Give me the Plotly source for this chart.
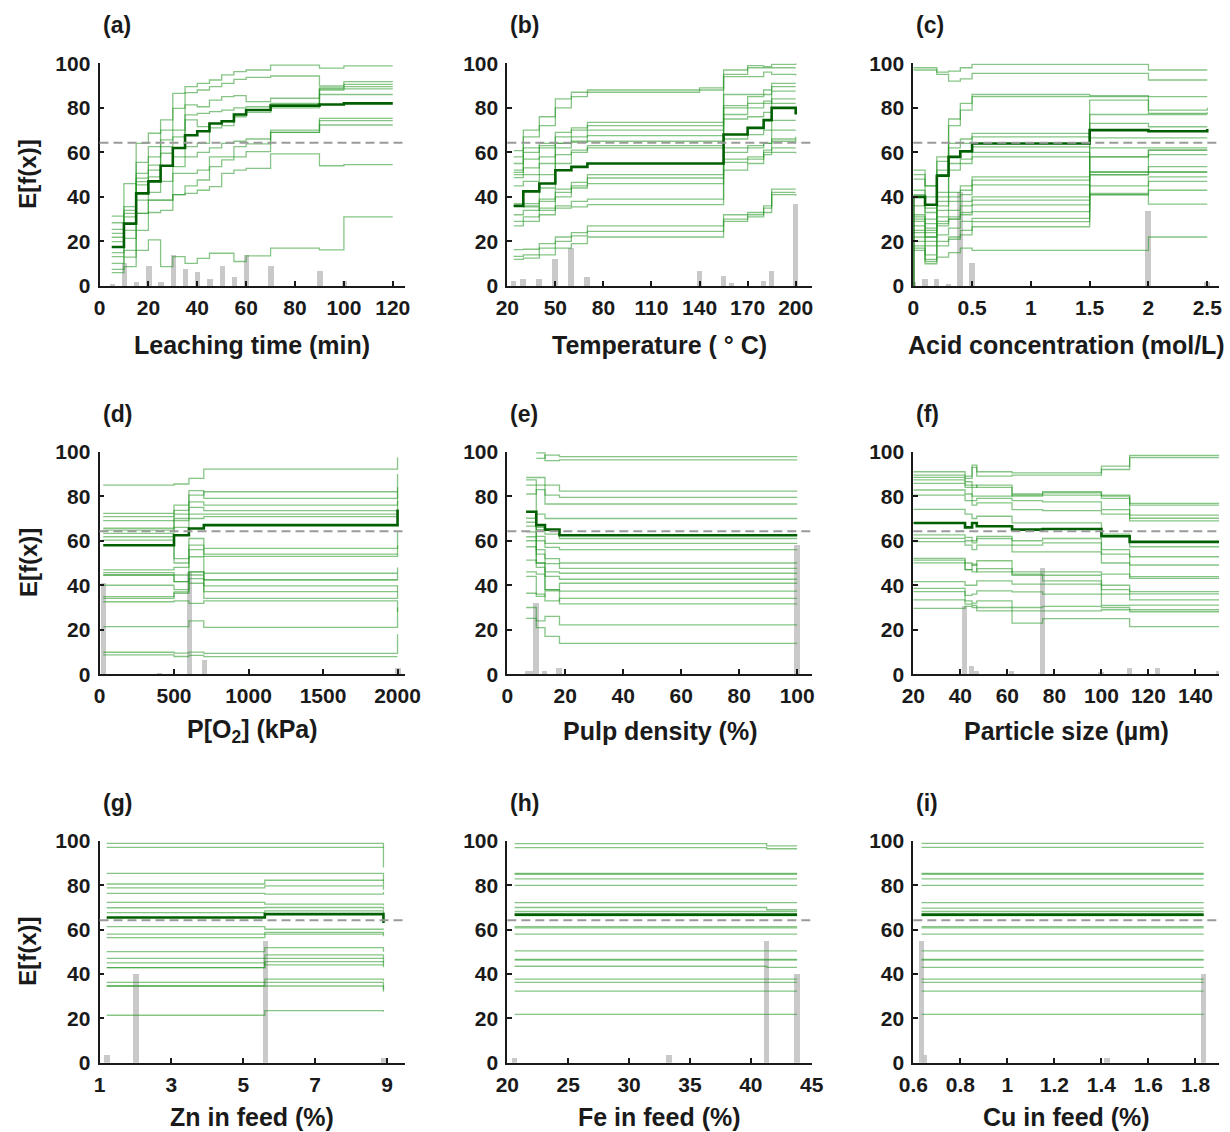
import plotly.graph_objects as go

W, H = 1230, 1132

# ---------------- (a) Leaching time (min) ----------------
A_X = [5, 10, 15, 20, 25, 30, 35, 40, 45, 50, 55, 60, 70, 90, 100, 120]
A_ICE = [
    [31.4, 46, 64, 68.6, 74.6, 86.5, 89.5, 91, 92.5, 94.8, 96.3, 97, 99.2, 97.8, 98.8, 98.8],
    [28.4, 35.6, 55.5, 62.6, 70, 79.8, 86.8, 88, 89.5, 91, 92.8, 93.7, 94.3, 89.8, 91.8, 91.8],
    [25.4, 34, 50.6, 58, 65.6, 70, 81.3, 80.5, 83.5, 85, 85.5, 82.8, 84.3, 89, 90.5, 90.5],
    [23.6, 32.6, 48.4, 54.3, 62.6, 67, 76.8, 77.5, 78.3, 79, 80, 80.5, 82, 88.5, 89.5, 89.5],
    [21.9, 31, 46.9, 52, 59.6, 62, 74.6, 71.6, 73, 73.8, 77, 79, 81, 88, 88.5, 88.5],
    [19.9, 28, 45.4, 49, 54, 58, 62.6, 64, 71, 72, 76, 78, 80, 86, 86, 86],
    [15, 25, 38.6, 42, 47, 53.6, 58, 60, 62, 64, 65, 66, 70, 75.3, 75.3, 75.3],
    [13.2, 21.4, 32.6, 38.6, 38.6, 50.6, 50.6, 52, 58, 58, 62.6, 63.8, 69, 74.3, 74.3, 74.3],
    [10.2, 16, 32.6, 33, 34, 41, 45, 47.6, 53.6, 56.6, 58, 60.3, 69, 72.3, 72.3, 72.3],
    [7.5, 13, 25, 38.6, 38.6, 41, 41.6, 43, 44.6, 50.6, 52, 52.8, 59.3, 54, 54.5, 54.5],
    [6, 8.7, 16, 20.7, 8.7, 13.2, 10.2, 12.4, 14.7, 14.7, 11, 13.5, 17, 16.2, 31, 31],
]
A_PDP = [17.5, 28, 41.6, 47, 54, 62, 67.7, 69.5, 73, 74, 77, 79, 81, 81.5, 82, 82]
A_HIST_X = [5, 10, 15, 20, 25, 30, 35, 40, 45, 50, 55, 60, 70, 90, 100]
A_HIST_Y = [0.7, 10, 1.6, 8.7, 1.6, 13.6, 7.5, 6, 3, 8.7, 4, 13.6, 8.7, 6.5, 2]

# ---------------- (b) Temperature ----------------
B_X = [24, 30, 40, 50, 60, 70, 140, 155, 170, 180, 185, 200]
B_ICE = [
    [52, 70, 76, 84, 87, 88, 89, 97, 99, 98.5, 99.5, 100],
    [50, 67, 72, 80, 85, 87, 88, 95, 98, 98, 98, 98],
    [58, 60, 64, 69, 71, 73.5, 73.5, 94, 94, 96, 95, 94.5],
    [55, 57, 62, 67, 70, 72, 72, 86, 86, 88, 91, 91],
    [51, 53, 58, 64, 67, 70, 70, 81, 85, 86, 89.5, 89.5],
    [48.7, 50, 55, 62, 65, 67.5, 67.5, 77, 80, 82, 87.5, 87.5],
    [37, 37, 44, 59, 61, 62, 62, 80, 82, 83, 82, 82],
    [45, 47, 50, 55, 60, 63, 63, 75, 76, 78, 84, 84],
    [60.8, 62, 63, 64, 64.5, 65, 65, 66, 68, 70, 74.4, 74.4],
    [36, 36, 39, 43.5, 46.5, 50, 50, 57, 57, 60, 70, 70],
    [32, 34, 38, 42, 45, 48.5, 48.5, 55.5, 58, 61, 62, 62],
    [29, 31, 35, 40, 44, 46, 46, 52, 55, 59, 60, 59.5],
    [27, 29, 32, 36, 38, 39, 39, 60, 63, 64, 65, 67],
    [36, 35.5, 34, 35, 35.5, 36.5, 36.5, 62, 62, 64, 66, 66],
    [16.3, 16.5, 19, 22, 24, 27, 27, 32, 33, 36, 42, 42],
    [13.3, 14, 17, 20, 22.5, 24.5, 24.5, 30, 32, 35, 43.5, 43.5],
    [12, 12.5, 14, 17, 19, 22, 22, 29, 31, 33, 41, 40.5],
]
B_PDP = [36, 42.5, 46, 52, 53.5, 55, 55, 68, 71, 74.5, 80, 77]
B_HIST_X = [24, 30, 40, 50, 60, 70, 140, 155, 160, 180, 185, 200]
B_HIST_Y = [2, 3, 3, 12, 17, 4, 6.5, 4.5, 1, 2, 6.5, 36.5]

# ---------------- (c) Acid concentration ----------------
C_X = [0, 0.1, 0.2, 0.3, 0.4, 0.5, 1.5, 2.0, 2.5]
C_ICE = [
    [98, 98, 96, 96.5, 98, 99.5, 99.5, 97, 97],
    [97, 97, 95, 92, 93, 95.5, 95.5, 92.5, 92.5],
    [50, 45, 58, 75, 82, 86, 85.5, 85, 85],
    [48, 40, 56, 72, 79, 85, 85, 77.5, 78],
    [43, 35, 52, 64, 66, 68.5, 83.5, 79, 80],
    [41, 33, 50, 62, 64, 67, 77, 77, 77],
    [52, 45, 50, 58, 60, 62.5, 73, 71.5, 71.5],
    [36, 30, 40, 55, 57, 60, 58, 61, 61],
    [32, 28, 42, 52, 55, 58, 51.3, 59, 59],
    [29, 25, 38, 42, 45, 49, 50, 53.6, 53.6],
    [27, 24, 34, 40, 43, 47.5, 49.9, 51.3, 51.3],
    [30, 26, 36, 38, 41, 45.4, 45, 49, 49],
    [25, 22, 31, 34, 38, 40, 41.6, 47, 47],
    [22, 20, 29, 31, 36, 38.6, 40.9, 43, 43],
    [20, 18, 28, 30, 33, 36.4, 66.5, 66.5, 66.5],
    [18, 12, 23, 26, 29, 30.4, 58, 61, 61],
    [16, 10, 20, 22, 25, 28.9, 62, 62, 62],
    [17, 11, 13, 15, 17, 16, 16, 22, 22],
    [24, 14, 18, 21, 23, 26.6, 41, 36.8, 36.8],
    [31, 22, 27, 30, 32, 33.4, 51, 51, 51],
]
C_PDP_X = [0, 0, 0.1, 0.2, 0.3, 0.4, 0.5, 1.5, 2.0, 2.5]
C_PDP = [0, 40, 36.5, 49.5, 58, 60.5, 64, 70, 69.5, 70.5]
C_HIST_X = [0, 0.1, 0.2, 0.3, 0.4, 0.5, 2.0, 2.5]
C_HIST_Y = [1.5, 3, 3, 0.7, 42, 10, 33.5, 1.5]

# ---------------- (d) P[O2] ----------------
D_X = [25, 500, 600, 700, 2000]
D_ICE = [
    [85, 85.5, 88, 92.2, 97.5],
    [72.3, 76, 82.5, 79, 90],
    [70.8, 73.6, 80.5, 82, 82],
    [69, 72, 77.5, 76, 84],
    [65.6, 70, 75, 73.5, 73.5],
    [64.8, 69, 72, 72, 78],
    [63.3, 66, 70, 70.8, 70.8],
    [61.8, 52, 61, 56.6, 64],
    [60.3, 50, 58, 54, 54],
    [46.9, 48, 56, 53, 58],
    [45.7, 44.6, 52.8, 45.4, 45.4],
    [44.6, 41.6, 46, 42.4, 48],
    [44.6, 41.6, 46, 42.4, 42.4],
    [40, 38, 44.6, 39.7, 39.7],
    [34.9, 37, 43, 37.1, 37.1],
    [34.1, 36.4, 40.9, 34.1, 40],
    [32.6, 33, 31.9, 33, 28],
    [21.4, 21.4, 24, 21.1, 30],
    [9.9, 9.5, 10, 9.4, 18],
    [8.7, 8, 8.5, 7.9, 7.9],
]
D_PDP = [58, 62.5, 65.5, 67, 74]
D_HIST_X = [25, 400, 600, 700, 2000]
D_HIST_Y = [41, 0.7, 46, 6.5, 3]

# ---------------- (e) Pulp density ----------------
E_X = [6.5, 10, 13, 18, 100]
E_ICE = [
    [None, 97, 98.5, 97.8, 97.8],
    [None, 99.5, 96, 96.3, 96.3],
    [88.4, 88.4, 85, 82.3, 82.3],
    [87.3, 50, 38, 31.6, 31.6],
    [85, 85, 80.5, 79.5, 79.5],
    [81, 83, 76.5, 76.5, 76.5],
    [73, 72, 70, 70, 70],
    [70.1, 65, 63, 61, 61],
    [68.3, 66, 65, 62.5, 62.5],
    [66.6, 60, 58.8, 58.8, 58.8],
    [64, 62, 57, 56, 56],
    [61.8, 56, 52, 50, 50],
    [60, 54, 49.7, 47.6, 47.6],
    [57.3, 50, 46, 45.4, 45.4],
    [51.3, 48, 44, 42.7, 42.7],
    [46, 45, 38, 40.9, 40.9],
    [36.4, 35, 37.5, 37.4, 37.4],
    [44, 36, 33, 34.1, 34.1],
    [25.1, 21, 17, 13.9, 13.9],
    [30, 24, 26, 22.2, 22.2],
]
E_PDP = [73, 67, 65, 62.5, 62.5]
E_HIST_X = [7, 8.5, 10, 13, 18, 100]
E_HIST_Y = [1.5, 1.5, 32, 1.5, 3, 58]

# ---------------- (f) Particle size ----------------
F_X = [20, 42, 45, 47, 62, 75, 100, 112, 150]
F_ICE = [
    [91, 89, 94, 91, 90.5, 90.5, 93.5, 98.3, 98.3],
    [89.5, 88, 93, 89, 89.5, 89.5, 92, 97.3, 97.3],
    [88.5, 86.5, 85, 84, 81, 81.5, 80.5, 76.8, 76.8],
    [87.3, 85, 84, 85, 80, 80.5, 79, 76, 76],
    [85.8, 84, 80, 80, 80.5, 82, 80, 71.5, 71.5],
    [82.8, 81, 78, 79, 78, 77.5, 74, 70.1, 70.1],
    [80.5, 78, 76, 77, 74, 73.5, 72, 68.9, 68.9],
    [74.1, 72, 70, 71, 68, 68, 63, 57.3, 57.3],
    [62.6, 61.5, 60, 62, 60, 61, 56, 52.8, 52.8],
    [61.1, 60, 59, 61, 58, 59, 54, 49.1, 49.1],
    [59.6, 58, 56, 58, 55, 55, 50, 43.9, 43.9],
    [52.1, 50, 49, 51, 46, 46, 45, 43.1, 43.1],
    [51.3, 47, 49.5, 46, 44.5, 44.5, 38, 37.1, 37.1],
    [50.1, 47, 46, 47.5, 45, 42, 40, 36.1, 36.1],
    [41.6, 40, 40, 42, 40.5, 40.5, 36, 33.4, 33.4],
    [38.6, 35.5, 36, 37.5, 37, 36, 31, 31.1, 31.1],
    [37.1, 33, 32, 33, 30, 30.5, 30, 28.1, 28.1],
    [33.4, 31.5, 31, 30, 23, 25, 25, 21.4, 21.4],
    [29.6, 30.5, 30, 28.5, 28.5, 28.5, 29, 29, 29],
]
F_PDP = [68, 66, 68, 66.5, 65, 65.3, 62, 59.5, 59.5]
F_HIST_X = [42, 45, 47, 62, 75, 100, 112, 124, 150]
F_HIST_Y = [31, 4, 1.5, 1.5, 48, 1, 3, 3, 1.5]

# ---------------- (g) Zn in feed ----------------
G_X = [1.2, 5.6, 8.9]
G_ICE = [
    [98.9, 98.9, 97], [97.1, 97.1, 88], [85.4, 85.4, 80], [80.6, 82.3, 82],
    [78.9, 79.8, 78], [76.4, 76, 77], [72.3, 71.5, 71], [69.9, 70, 69],
    [67.7, 68.5, 65], [61.4, 60.2, 60], [58, 58, 57], [56.4, 58.8, 58],
    [50.1, 51.9, 50], [47.1, 48.6, 47], [42.9, 47.1, 45], [42.9, 45.6, 44],
    [45, 44.1, 43], [36.2, 37.7, 37], [34.6, 36.2, 32], [34.6, 34.6, 33],
    [21.4, 23.5, 23],
]
G_PDP = [65.5, 67, 63]
G_HIST_X = [1.2, 2.0, 5.6, 8.9]
G_HIST_Y = [3.5, 40, 55, 2]

# ---------------- (h) Fe in feed ----------------
H_X = [20.6, 41.3, 43.8]
H_ICE = [
    [98.8, 97.8, 97.8], [97, 96.5, 96.5], [85.4, 85.4, 85.4], [85, 85, 85],
    [82.9, 82.9, 82.9], [80, 80, 80], [72.2, 72.2, 72.2], [70, 69, 69],
    [68.2, 68.2, 68.2], [66.3, 66.3, 66.3], [61.4, 61.4, 61.4], [60.8, 60.8, 60.8],
    [58, 58, 58], [50.4, 50.4, 50.4], [46.6, 46.6, 46.6], [46.3, 46.3, 46.3],
    [43.5, 43, 43], [37.7, 37.7, 37.7], [36.2, 36.2, 36.2], [32.3, 32.3, 32.3],
    [21.8, 21.8, 21.8],
]
H_PDP = [66.8, 66.8, 66.8]
H_HIST_X = [20.6, 33.3, 41.3, 43.8]
H_HIST_Y = [2, 3.5, 55, 40]

# ---------------- (i) Cu in feed ----------------
I_X = [0.635, 1.835]
I_ICE = [
    [98.9, 98.9], [97.1, 97.1], [85.4, 85.4], [85, 85], [82.9, 82.9], [80, 80],
    [72.2, 72.2], [69.7, 69.7], [68.2, 68.2], [66.3, 66.3], [61.4, 61.4],
    [60.8, 60.8], [58, 58], [50.4, 50.4], [46.6, 46.6], [46.3, 46.3], [43, 43],
    [37.7, 37.7], [36.2, 36.2], [32.3, 32.3], [21.8, 21.8],
]
I_PDP = [66.8, 66.8]
I_HIST_X = [0.637, 0.65, 1.425, 1.835]
I_HIST_Y = [55, 3.5, 2, 40]

MEAN_PRED = 64.3
Y_TICKS = [0, 20, 40, 60, 80, 100]

PANELS = [
    dict(label="(a)", title="Leaching time (min)", x=A_X, ice=A_ICE, px=A_X, pdp=A_PDP,
         hx=A_HIST_X, hy=A_HIST_Y, rng=[0, 125], tv=[0, 20, 40, 60, 80, 100, 120], tt=None, bw=2.2),
    dict(label="(b)", title="Temperature ( ° C)", x=B_X, ice=B_ICE, px=B_X, pdp=B_PDP,
         hx=B_HIST_X, hy=B_HIST_Y, rng=[20, 210], tv=[20, 50, 80, 110, 140, 170, 200], tt=None, bw=3.4),
    dict(label="(c)", title="Acid concentration (mol/L)", x=C_X, ice=C_ICE, px=C_PDP_X, pdp=C_PDP,
         hx=C_HIST_X, hy=C_HIST_Y, rng=[0, 2.6], tv=[0, 0.5, 1, 1.5, 2, 2.5],
         tt=["0", "0.5", "1", "1.5", "2", "2.5"], bw=0.047),
    dict(label="(d)", title="P[O<sub>2</sub>] (kPa)", x=D_X, ice=D_ICE, px=D_X, pdp=D_PDP,
         hx=D_HIST_X, hy=D_HIST_Y, rng=[0, 2050], tv=[0, 500, 1000, 1500, 2000], tt=None, bw=37),
    dict(label="(e)", title="Pulp density (%)", x=E_X, ice=E_ICE, px=E_X, pdp=E_PDP,
         hx=E_HIST_X, hy=E_HIST_Y, rng=[0, 105], tv=[0, 20, 40, 60, 80, 100], tt=None, bw=1.9),
    dict(label="(f)", title="Particle size (µm)", x=F_X, ice=F_ICE, px=F_X, pdp=F_PDP,
         hx=F_HIST_X, hy=F_HIST_Y, rng=[20, 150], tv=[20, 40, 60, 80, 100, 120, 140], tt=None, bw=2.3),
    dict(label="(g)", title="Zn in feed (%)", x=G_X, ice=G_ICE, px=G_X, pdp=G_PDP,
         hx=G_HIST_X, hy=G_HIST_Y, rng=[1, 9.5], tv=[1, 3, 5, 7, 9], tt=None, bw=0.15),
    dict(label="(h)", title="Fe in feed (%)", x=H_X, ice=H_ICE, px=H_X, pdp=H_PDP,
         hx=H_HIST_X, hy=H_HIST_Y, rng=[20, 45], tv=[20, 25, 30, 35, 40, 45], tt=None, bw=0.45),
    dict(label="(i)", title="Cu in feed (%)", x=I_X, ice=I_ICE, px=I_X, pdp=I_PDP,
         hx=I_HIST_X, hy=I_HIST_Y, rng=[0.6, 1.9], tv=[0.6, 0.8, 1, 1.2, 1.4, 1.6, 1.8],
         tt=["0.6", "0.8", "1", "1.2", "1.4", "1.6", "1.8"], bw=0.023),
]

COLS = [(99.5, 405.0), (507.3, 811.7), (913.3, 1219.0)]
ROWS = [(63.3, 286.0), (451.7, 674.3), (841.0, 1062.7)]
XTITLE_Y = [345, 731, 1117]
LABEL_Y = [25, 414, 803]

FONT = "Liberation Sans, Arial, Helvetica, sans-serif"
INK = "#1a1a1a"
ICE_COLOR = "rgba(35,150,35,0.55)"
PDP_COLOR = "rgb(0,95,0)"
BAR_COLOR = "rgba(195,195,195,0.9)"

fig = go.Figure()
layout = dict(
    width=W, height=H, margin=dict(l=0, r=0, t=0, b=0, pad=0), autosize=False,
    paper_bgcolor="white", plot_bgcolor="white", showlegend=False,
    font=dict(family=FONT, color=INK), bargap=0,
)
annotations = []
shapes = []

for i, p in enumerate(PANELS):
    r, c = divmod(i, 3)
    n = i + 1
    xa = "x" if n == 1 else f"x{n}"
    ya = "y" if n == 1 else f"y{n}"
    xkey = "xaxis" if n == 1 else f"xaxis{n}"
    ykey = "yaxis" if n == 1 else f"yaxis{n}"
    x0, x1 = COLS[c]
    yt, yb = ROWS[r]

    for ys in p["ice"]:
        fig.add_trace(go.Scatter(x=p["x"], y=ys, mode="lines", line=dict(color=ICE_COLOR, width=1.3, shape="hv"),
                                 xaxis=xa, yaxis=ya, hoverinfo="skip"))
    fig.add_trace(go.Scatter(x=p["px"], y=p["pdp"], mode="lines", line=dict(color=PDP_COLOR, width=2.6, shape="hv"),
                             xaxis=xa, yaxis=ya, hoverinfo="skip"))
    fig.add_trace(go.Bar(x=p["hx"], y=p["hy"], width=p["bw"], marker=dict(color=BAR_COLOR, line=dict(width=0)),
                         xaxis=xa, yaxis=ya, hoverinfo="skip"))

    axis_common = dict(showline=True, linecolor=INK, linewidth=1.8, ticks="inside", ticklen=5, tickwidth=1.5,
                       tickcolor=INK, showgrid=False, zeroline=False, fixedrange=True, automargin=False,
                       tickfont=dict(family=FONT, size=21, color=INK, weight="bold"))
    xa_cfg = dict(axis_common, domain=[x0 / W, x1 / W], anchor=ya, range=p["rng"], tickvals=p["tv"],
                  ticklabelstandoff=2)
    if p["tt"] is not None:
        xa_cfg["ticktext"] = p["tt"]
    layout[xkey] = xa_cfg
    layout[ykey] = dict(axis_common, domain=[1 - yb / H, 1 - yt / H], anchor=xa, range=[0, 100],
                        tickvals=Y_TICKS, ticklabelstandoff=3)

    shapes.append(dict(type="line", xref=f"{xa} domain", x0=0, x1=1, yref=ya, y0=MEAN_PRED, y1=MEAN_PRED,
                       line=dict(color="#9a9a9a", width=2, dash="9px,5px")))

    annotations.append(dict(text=p["label"], xref="paper", yref="paper", x=(x0 + 1) / W, y=1 - LABEL_Y[r] / H,
                            xanchor="left", yanchor="middle", showarrow=False,
                            font=dict(family=FONT, size=23, color=INK, weight="bold")))
    annotations.append(dict(text=p["title"], xref="paper", yref="paper", x=(x0 + x1) / 2 / W,
                            y=1 - XTITLE_Y[r] / H, xanchor="center", yanchor="middle", showarrow=False,
                            font=dict(family=FONT, size=25, color=INK, weight="bold")))
    if c == 0:
        annotations.append(dict(text="E[f(x)]", xref="paper", yref="paper", x=28 / W, y=1 - (yt + yb) / 2 / H,
                                xanchor="center", yanchor="middle", textangle=-90, showarrow=False,
                                font=dict(family=FONT, size=24, color=INK, weight="bold")))

layout["annotations"] = annotations
layout["shapes"] = shapes
fig.update_layout(**layout)
fig.write_html(
    "out.html",
    post_script="document.documentElement.style.margin='0';document.documentElement.style.overflow='hidden';"
                "document.body.style.margin='0';document.body.style.padding='0';document.body.style.overflow='hidden';",
)
